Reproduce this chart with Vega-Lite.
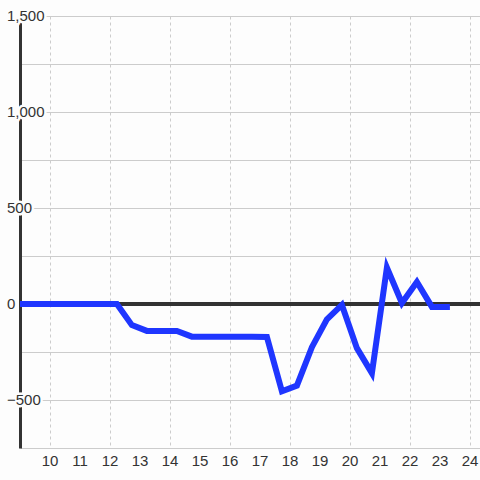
{
  "$schema": "https://vega.github.io/schema/vega-lite/v6.json",
  "autosize": "none",
  "width": 460,
  "height": 432,
  "padding": {"left": 20, "top": 16, "right": 0, "bottom": 32},
  "background": "#fdfdfd",
  "config": {
    "view": {"stroke": null},
    "font": "Liberation Sans"
  },
  "datasets": {
    "series": [
      {"x": 8.73, "y": 0}, {"x": 9.23, "y": 0}, {"x": 9.73, "y": 0}, {"x": 10.23, "y": 0},
      {"x": 10.73, "y": 0}, {"x": 11.23, "y": 0}, {"x": 11.73, "y": 0}, {"x": 12.23, "y": 0},
      {"x": 12.73, "y": -110}, {"x": 13.23, "y": -140}, {"x": 13.73, "y": -140}, {"x": 14.23, "y": -140},
      {"x": 14.73, "y": -170}, {"x": 15.23, "y": -170}, {"x": 15.73, "y": -170}, {"x": 16.23, "y": -170},
      {"x": 16.73, "y": -170}, {"x": 17.23, "y": -172}, {"x": 17.73, "y": -455}, {"x": 18.23, "y": -425},
      {"x": 18.73, "y": -225}, {"x": 19.23, "y": -80}, {"x": 19.73, "y": -5}, {"x": 20.23, "y": -230},
      {"x": 20.73, "y": -360}, {"x": 21.23, "y": 190}, {"x": 21.73, "y": 5}, {"x": 22.23, "y": 115},
      {"x": 22.73, "y": -15}, {"x": 23.23, "y": -15}
    ],
    "xlabels": [{"v": 10}, {"v": 11}, {"v": 12}, {"v": 13}, {"v": 14}, {"v": 15}, {"v": 16}, {"v": 17},
      {"v": 18}, {"v": 19}, {"v": 20}, {"v": 21}, {"v": 22}, {"v": 23}, {"v": 24}],
    "ylabels": [{"v": -500}, {"v": 0}, {"v": 500}, {"v": 1000}, {"v": 1500}]
  },
  "layer": [
    {
      "data": {"name": "series"},
      "mark": {"type": "rule", "color": "#333333", "strokeWidth": 3},
      "encoding": {"y": {"datum": 0, "type": "quantitative"}}
    },
    {
      "data": {"name": "series"},
      "mark": {"type": "line", "color": "#1f36ff", "strokeWidth": 6, "strokeCap": "square", "strokeJoin": "miter", "clip": true},
      "encoding": {
        "x": {
          "field": "x", "type": "quantitative",
          "scale": {"domain": [9, 24.3333], "nice": false, "zero": false},
          "axis": {
            "title": null, "values": [10, 11, 12, 13, 14, 15, 16, 17, 18, 19, 20, 21, 22, 23, 24],
            "domain": false, "ticks": false, "labels": false,
            "grid": true, "gridColor": "#cccccc", "gridDash": [3, 3], "gridWidth": 1
          }
        },
        "y": {
          "field": "y", "type": "quantitative",
          "scale": {"domain": [-750, 1500], "nice": false, "zero": false},
          "axis": {
            "title": null, "values": [-750, -500, -250, 0, 250, 500, 750, 1000, 1250, 1500],
            "labels": false, "ticks": false,
            "domain": true, "domainColor": "#333333", "domainWidth": 3,
            "grid": true, "gridColor": "#cccccc", "gridWidth": 1
          }
        }
      }
    },
    {
      "data": {"name": "xlabels"},
      "mark": {"type": "text", "align": "center", "baseline": "middle", "dy": 13, "fontSize": 15, "font": "Liberation Sans", "fill": "#333333"},
      "encoding": {
        "x": {"field": "v", "type": "quantitative"},
        "y": {"datum": -750, "type": "quantitative"},
        "text": {"field": "v", "type": "quantitative"}
      }
    },
    {
      "data": {"name": "ylabels"},
      "mark": {"type": "text", "align": "left", "baseline": "middle", "dx": -13, "fontSize": 15, "font": "Liberation Sans", "stroke": "#fdfdfd", "strokeWidth": 5, "fill": "#fdfdfd"},
      "encoding": {
        "x": {"datum": 9, "type": "quantitative"},
        "y": {"field": "v", "type": "quantitative"},
        "text": {"field": "v", "type": "quantitative", "format": ","}
      }
    },
    {
      "data": {"name": "ylabels"},
      "mark": {"type": "text", "align": "left", "baseline": "middle", "dx": -13, "fontSize": 15, "font": "Liberation Sans", "fill": "#333333"},
      "encoding": {
        "x": {"datum": 9, "type": "quantitative"},
        "y": {"field": "v", "type": "quantitative"},
        "text": {"field": "v", "type": "quantitative", "format": ","}
      }
    }
  ]
}
